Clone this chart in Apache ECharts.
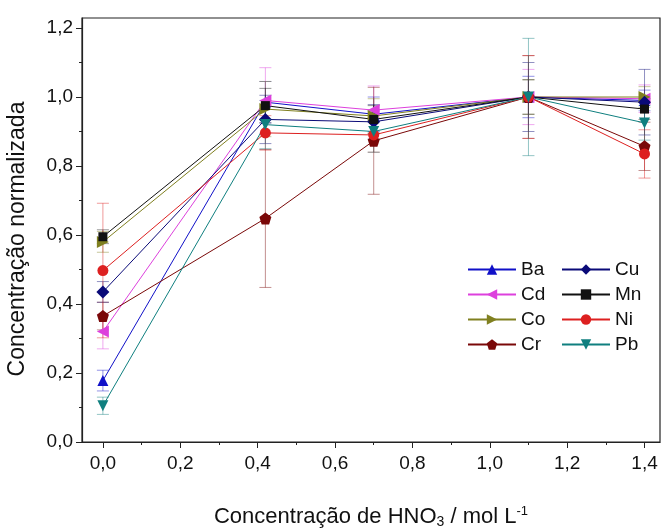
<!DOCTYPE html>
<html><head><meta charset="utf-8">
<script src="https://cdn.jsdelivr.net/npm/echarts@6/dist/echarts.min.js"></script>
<style>html,body{margin:0;padding:0;background:#fff}#c{width:662px;height:530px}</style>
</head><body><div id="c"></div>
<script>
var xValues = [0, 0.42, 0.70, 1.10, 1.40];
var names = ['Ba','Cd','Co','Cr','Cu','Mn','Ni','Pb'];
var Ba = [0.178, 0.985, 0.95, 1.0, 0.99];
var Cd = [0.32, 0.99, 0.962, 1.0, 0.995];
var Co = [0.58, 0.965, 0.945, 1.0, 1.0];
var Cr = [0.365, 0.648, 0.873, 1.0, 0.857];
var Cu = [0.435, 0.935, 0.928, 1.0, 0.985];
var Mn = [0.595, 0.975, 0.935, 1.0, 0.965];
var Ni = [0.497, 0.896, 0.89, 1.0, 0.835];
var Pb = [0.105, 0.92, 0.90, 1.0, 0.925];
var BaErr = [0.03, 0.06, 0.05, 0.06, 0.03];
var CdErr = [0.05, 0.095, 0.07, 0.08, 0.04];
var CoErr = [0.03, 0.08, 0.05, 0.05, 0.03];
var CrErr = [0.04, 0.20, 0.155, 0.12, 0.07];
var CuErr = [0.03, 0.07, 0.05, 0.10, 0.095];
var MnErr = [0.02, 0.05, 0.04, 0.05, 0.03];
var NiErr = [0.195, 0.05, 0.05, 0.12, 0.07];
var PbErr = [0.025, 0.07, 0.06, 0.17, 0.05];
var xTicks = [0, 0.2, 0.4, 0.6, 0.8, 1.0, 1.2, 1.4];
var xMinor = [0.1, 0.3, 0.5, 0.7, 0.9, 1.1, 1.3];
var yTicks = [0, 0.2, 0.4, 0.6, 0.8, 1.0, 1.2];
var yMinor = [0.1, 0.3, 0.5, 0.7, 0.9, 1.1];

var values = {Ba:Ba, Cd:Cd, Co:Co, Cr:Cr, Cu:Cu, Mn:Mn, Ni:Ni, Pb:Pb};
var errs = {Ba:BaErr, Cd:CdErr, Co:CoErr, Cr:CrErr, Cu:CuErr, Mn:MnErr, Ni:NiErr, Pb:PbErr};
var colors = {Ba:'#1010c8', Cd:'#dd40dd', Co:'#808020', Cr:'#7a0808', Cu:'#0a0a78', Mn:'#111111', Ni:'#dd2020', Pb:'#0f7f7f'};
var pent = 'path://M0,-10 L9.51,-3.09 L5.88,8.09 L-5.88,8.09 L-9.51,-3.09 Z';
var symbols = {Ba:['triangle',0,11], Cd:['triangle',90,12], Co:['triangle',-90,12], Cr:[pent,0,12],
  Cu:['diamond',0,13], Mn:['rect',0,9], Ni:['circle',0,11], Pb:['triangle',180,11]};

var FONT = 'Liberation Sans';
function fmt(v){ return (Math.round(v*10)/10).toFixed(1).replace('.', ','); }

var series = [];
names.forEach(function(n){
  var errData = xValues.map(function(x,i){ return [x, values[n][i], errs[n][i]]; });
  series.push({
    type:'custom', name:n+'_err', xAxisIndex:0, yAxisIndex:0, z:1, silent:true,
    data: errData,
    renderItem: function(params, api){
      var x = api.value(0), y = api.value(1), e = api.value(2);
      var top = api.coord([x, y+e]), bot = api.coord([x, y-e]);
      var w = 6;
      var st = {stroke: colors[n], lineWidth:1, opacity:0.45};
      return {type:'group', children:[
        {type:'line', shape:{x1:top[0], y1:top[1], x2:bot[0], y2:bot[1]}, style:st},
        {type:'line', shape:{x1:top[0]-w, y1:top[1], x2:top[0]+w, y2:top[1]}, style:st},
        {type:'line', shape:{x1:bot[0]-w, y1:bot[1], x2:bot[0]+w, y2:bot[1]}, style:st}
      ]};
    }
  });
});
names.forEach(function(n){
  series.push({
    type:'line', name:n, xAxisIndex:0, yAxisIndex:0, z:3,
    data: xValues.map(function(x,i){ return [x, values[n][i]]; }),
    symbol: symbols[n][0], symbolRotate: symbols[n][1], symbolSize: symbols[n][2],
    itemStyle:{color: colors[n]}, lineStyle:{color: colors[n], width:1},
    showSymbol:true, animation:false
  });
});

var legendCommon = {
  orient:'vertical', itemWidth:48, itemHeight:13, itemGap:6,
  textStyle:{fontFamily:FONT, fontSize:19, color:'#111'}, selectedMode:false
};

var option = {
  animation:false,
  backgroundColor:'#fff',
  grid:{left:82, right:2, top:18, bottom:88, containLabel:false, outerBoundsMode:'none',
        show:true, borderColor:'#222', borderWidth:1.2, backgroundColor:'transparent'},
  legend:[
    Object.assign({data:['Ba','Cd','Co','Cr'], left:462, top:255}, legendCommon),
    Object.assign({data:['Cu','Mn','Ni','Pb'], left:556, top:255}, legendCommon)
  ],
  xAxis:[
    {type:'value', min:-0.054, max:1.44, position:'bottom',
     name:'Concentração de HNO{sub|3} / mol L{sup|-1}', nameLocation:'middle', nameGap:63,
     nameTextStyle:{fontFamily:FONT, fontSize:22, color:'#111',
       rich:{sub:{fontFamily:FONT, fontSize:14, color:'#111', verticalAlign:'bottom', lineHeight:24},
             sup:{fontFamily:FONT, fontSize:13, color:'#111', verticalAlign:'top', lineHeight:24}}},
     axisLine:{show:true, onZero:false, lineStyle:{color:'#222', width:1.2}},
     axisTick:{show:true, length:6, customValues:xTicks, lineStyle:{color:'#222'}},
     axisLabel:{customValues:xTicks, formatter:fmt, fontFamily:FONT, fontSize:19, color:'#111', margin:12},
     splitLine:{show:false}},
    {type:'value', min:-0.054, max:1.44, position:'bottom', gridIndex:0,
     axisLine:{show:false, onZero:false}, axisTick:{show:true, length:3, customValues:xMinor, lineStyle:{color:'#222'}},
     axisLabel:{show:false}, splitLine:{show:false}}
  ],
  yAxis:[
    {type:'value', min:0, max:1.229, position:'left',
     name:'Concentração normalizada', nameLocation:'middle', nameGap:53,
     nameTextStyle:{fontFamily:FONT, fontSize:23, color:'#111', padding:[0,18,0,0]},
     axisLine:{show:true, onZero:false, lineStyle:{color:'#222', width:1.2}},
     axisTick:{show:true, length:6, customValues:yTicks, lineStyle:{color:'#222'}},
     axisLabel:{customValues:yTicks, formatter:fmt, fontFamily:FONT, fontSize:19, color:'#111', margin:9},
     splitLine:{show:false}},
    {type:'value', min:0, max:1.229, position:'left', gridIndex:0,
     axisLine:{show:false, onZero:false}, axisTick:{show:true, length:3, customValues:yMinor, lineStyle:{color:'#222'}},
     axisLabel:{show:false}, splitLine:{show:false}}
  ],
  series: series
};
var chart = echarts.init(document.getElementById('c'), null, {renderer:'canvas'});
chart.setOption(option);
</script>
</body></html>
